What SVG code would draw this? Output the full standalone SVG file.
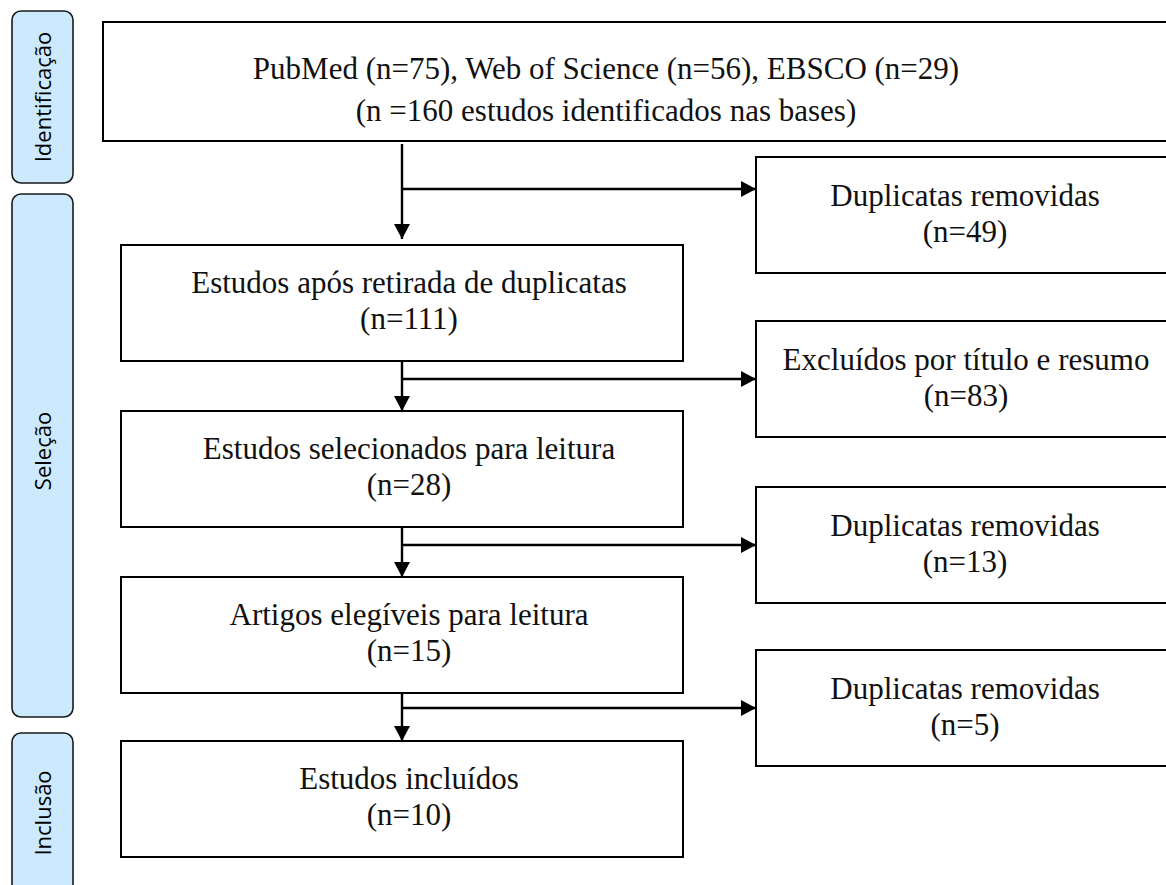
<svg xmlns="http://www.w3.org/2000/svg" width="1166" height="885" viewBox="0 0 1166 885">
<style>
.box{fill:#fff;stroke:#000;stroke-width:2}
.lab{fill:#cce9fd;stroke:#1a1a1a;stroke-width:1.6}
.t{font-family:"Liberation Serif",serif;font-size:31px;fill:#111;text-anchor:middle}
.lt{font-family:"Open Sans","DejaVu Sans",sans-serif;font-size:22px;fill:#000;text-anchor:middle}
.c{fill:none;stroke:#000;stroke-width:2.4}
</style>
<defs>
<marker id="ah" markerUnits="userSpaceOnUse" markerWidth="15" markerHeight="16" refX="15" refY="8" orient="auto">
<path d="M0,0 L15,8 L0,16 z" fill="#000"/>
</marker>
</defs>
<g id="stage-identificacao">
<rect class="lab" x="12" y="11" width="61" height="172" rx="9"/>
<text class="lt" transform="translate(51,97) rotate(-90)">Identificação</text>
</g>
<g id="stage-selecao">
<rect class="lab" x="12" y="194" width="61" height="523" rx="9"/>
<text class="lt" transform="translate(51,451) rotate(-90)">Seleção</text>
</g>
<g id="stage-inclusao">
<rect class="lab" x="12" y="733" width="61" height="170" rx="9"/>
<text class="lt" transform="translate(51,813) rotate(-90)">Inclusão</text>
</g>
<g id="identified">
<rect class="box" x="103" y="22" width="1080" height="119"/>
<text class="t" x="606" y="79">PubMed (n=75), Web of Science (n=56), EBSCO (n=29)</text>
<text class="t" x="606" y="121">(n =160 estudos identificados nas bases)</text>
</g>
<g id="dup49">
<rect class="box" x="756" y="157" width="420" height="116"/>
<text class="t" x="965" y="206">Duplicatas removidas</text>
<text class="t" x="965" y="242">(n=49)</text>
</g>
<g id="after-dup">
<rect class="box" x="121" y="245" width="562" height="116"/>
<text class="t" x="409" y="293">Estudos após retirada de duplicatas</text>
<text class="t" x="409" y="329">(n=111)</text>
</g>
<g id="excl83">
<rect class="box" x="756" y="321" width="420" height="116"/>
<text class="t" x="966" y="370">Excluídos por título e resumo</text>
<text class="t" x="966" y="406">(n=83)</text>
</g>
<g id="selected">
<rect class="box" x="121" y="411" width="562" height="116"/>
<text class="t" x="409" y="459">Estudos selecionados para leitura</text>
<text class="t" x="409" y="495">(n=28)</text>
</g>
<g id="dup13">
<rect class="box" x="756" y="487" width="420" height="116"/>
<text class="t" x="965" y="536">Duplicatas removidas</text>
<text class="t" x="965" y="572">(n=13)</text>
</g>
<g id="eligible">
<rect class="box" x="121" y="577" width="562" height="116"/>
<text class="t" x="409" y="625">Artigos elegíveis para leitura</text>
<text class="t" x="409" y="661">(n=15)</text>
</g>
<g id="dup5">
<rect class="box" x="756" y="650" width="420" height="116"/>
<text class="t" x="965" y="699">Duplicatas removidas</text>
<text class="t" x="965" y="735">(n=5)</text>
</g>
<g id="included">
<rect class="box" x="121" y="741" width="562" height="116"/>
<text class="t" x="409" y="789">Estudos incluídos</text>
<text class="t" x="409" y="825">(n=10)</text>
</g>
<g id="connectors">
<line class="c" x1="402" y1="144" x2="402" y2="239" marker-end="url(#ah)"/>
<line class="c" x1="402" y1="189" x2="756" y2="189" marker-end="url(#ah)"/>
<line class="c" x1="402" y1="361" x2="402" y2="411" marker-end="url(#ah)"/>
<line class="c" x1="402" y1="379" x2="756" y2="379" marker-end="url(#ah)"/>
<line class="c" x1="402" y1="527" x2="402" y2="577" marker-end="url(#ah)"/>
<line class="c" x1="402" y1="545" x2="756" y2="545" marker-end="url(#ah)"/>
<line class="c" x1="402" y1="693" x2="402" y2="741" marker-end="url(#ah)"/>
<line class="c" x1="402" y1="708" x2="756" y2="708" marker-end="url(#ah)"/>
</g>
</svg>
